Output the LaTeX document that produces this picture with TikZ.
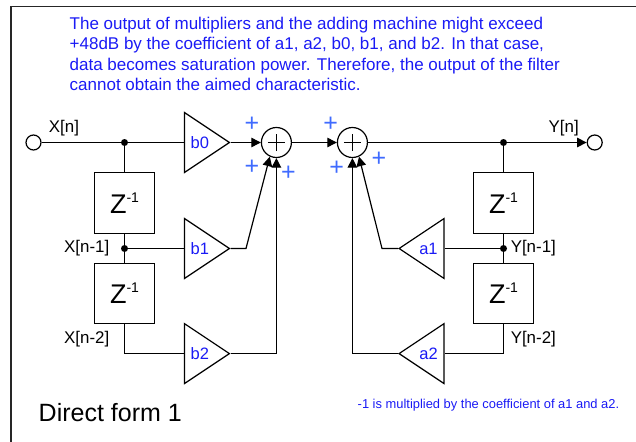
\documentclass[tikz,border=0pt]{standalone}
\usepackage{fontspec}
\setmainfont{Liberation Sans}
\usetikzlibrary{arrows.meta,shapes.geometric}
\definecolor{txtblue}{HTML}{1A1AF5}
\definecolor{plusblue}{HTML}{3F6BFF}
\newcommand{\fs}[1]{\fontsize{#1}{#1}\selectfont}
\tikzset{
  x=1pt,y=-1pt,
  wire/.style={line width=1.2pt,black},
  arr/.style={wire,-{Triangle[length=9.5pt,width=9.5pt]},shorten >=0pt},
  dlay/.style={draw,line width=1.2pt,minimum width=60.5pt,minimum height=60.5pt,inner sep=0pt,font=\fs{27}},
  sumnode/.style={draw,circle,line width=1.2pt,minimum size=30pt,inner sep=0pt},
  port/.style={draw,circle,line width=1.2pt,minimum size=15pt,inner sep=0pt,fill=white},
  dot/.style={circle,fill=black,minimum size=7pt,inner sep=0pt},
  amp/.style={draw,line width=1.2pt,isosceles triangle,isosceles triangle stretches,isosceles triangle apex angle=67.4,
    minimum height=45pt,minimum width=60pt,inner sep=0pt,text=txtblue,font=\fs{16.5}},
  ampr/.style={amp,shape border rotate=0,anchor=apex},
  ampl/.style={amp,shape border rotate=180,anchor=apex},
  lab/.style={font=\fs{16.9},inner sep=0pt,text=black},
  pl/.style={font=\fs{25},inner sep=0pt,text=plusblue},
}
\newcommand{\zinv}{Z\raisebox{11pt}{\fs{14}-1}}
\begin{document}
\begin{tikzpicture}
\useasboundingbox (0,0) rectangle (636,441);
\draw[line width=1.4pt,black!85] (11,445) -- (11,6.5) -- (640,6.5);
% note
\node[anchor=north west,inner sep=0pt,align=left,text=txtblue,font=\fontsize{17}{20.5}\selectfont] (note) at (69.5,16.9)
 {The output of multipliers and the adding machine might exceed\\
  +48dB by the coefficient of a1, a2, b0, b1, and b2. In that case,\\
  data becomes saturation power. Therefore, the output of the filter\\
  cannot obtain the aimed characteristic.};
% nodes
\node[port] (in) at (33.5,142.5) {};
\node[port] (out) at (594.7,142.5) {};
\node[dot] (xd0) at (124.5,142.5) {};
\node[dot] (xd1) at (124.5,248.5) {};
\node[dot] (yd0) at (503.5,142.5) {};
\node[dot] (yd1) at (503.5,248.5) {};
\node[dlay] (zx1) at (124.5,203) {\zinv};
\node[dlay] (zx2) at (124.5,293.5) {\zinv};
\node[dlay] (zy1) at (503.5,203) {\zinv};
\node[dlay] (zy2) at (503.5,293.5) {\zinv};
\node[ampr] (b0) at (230.5,142.5) {b0};
\node[ampr] (b1) at (230.5,248.5) {b1};
\node[ampr] (b2) at (230.5,353.6) {b2};
\node[ampl] (a1) at (398,248.5) {a1};
\node[ampl] (a2) at (398,353.6) {a2};
\node[sumnode] (s1) at (276.4,142.5) {};
\node[sumnode] (s2) at (352.4,142.5) {};
\coordinate (b1k) at (246,248.5);
\coordinate (a1k) at (382,248.5);
\coordinate (b2k) at (276.4,353.6);
\coordinate (a2k) at (352.4,353.6);
\coordinate (x2k) at (124.5,353.6);
\coordinate (y2k) at (503.5,353.6);
% plus signs inside adders
\foreach \s in {s1,s2}{
  \draw[wire] ([xshift=-8.5pt]\s.center) -- ([xshift=8.5pt]\s.center);
  \draw[wire] ([yshift=-8.5pt]\s.center) -- ([yshift=8.5pt]\s.center);
}
% connectors
\draw[wire] (in) -- (xd0) -- (b0.lower side);
\draw[wire] (xd0) -- (zx1);
\draw[wire] (zx1) -- (xd1) -- (zx2);
\draw[wire] (xd1) -- (b1.lower side);
\draw[wire] (zx2) -- (x2k) -- (b2.lower side);
\draw[arr] (b0.apex) -- (s1);
\draw[arr] (b1.apex) -- (b1k) -- (s1.245);
\draw[arr] (b2.apex) -- (b2k) -- (s1);
\draw[arr] (s1) -- (s2);
\draw[arr] (s2) -- (out);
\draw[wire] (yd0) -- (zy1);
\draw[wire] (zy1) -- (yd1) -- (zy2);
\draw[wire] (yd1) -- (a1.lower side);
\draw[wire] (zy2) -- (y2k) -- (a2.lower side);
\draw[arr] (a1.apex) -- (a1k) -- (s2.295);
\draw[arr] (a2.apex) -- (a2k) -- (s2);
% labels
\node[lab] (lx0) at (64,127.7) {X[n]};
\node[lab] (lx1) at (86.7,247.7) {X[n-1]};
\node[lab] (lx2) at (86.7,339) {X[n-2]};
\node[lab] (ly0) at (563.7,127.7) {Y[n]};
\node[lab] (ly1) at (533.3,247.7) {Y[n-1]};
\node[lab] (ly2) at (533.3,339) {Y[n-2]};
\node[pl] (p1) at (252,124.3) {+};
\node[pl] (p2) at (252,167.3) {+};
\node[pl] (p3) at (288.3,173.3) {+};
\node[pl] (p4) at (330.7,124.3) {+};
\node[pl] (p5) at (336.7,168.3) {+};
\node[pl] (p6) at (379,159.7) {+};
\node[anchor=base west,inner sep=0pt,font=\fs{25}] (title) at (38.5,421.7) {Direct form 1};
\node[anchor=base west,inner sep=0pt,text=txtblue,font=\fs{12.9}] (foot) at (357.5,408) {-1 is multiplied by the coefficient of a1 and a2.};
\end{tikzpicture}
\end{document}
